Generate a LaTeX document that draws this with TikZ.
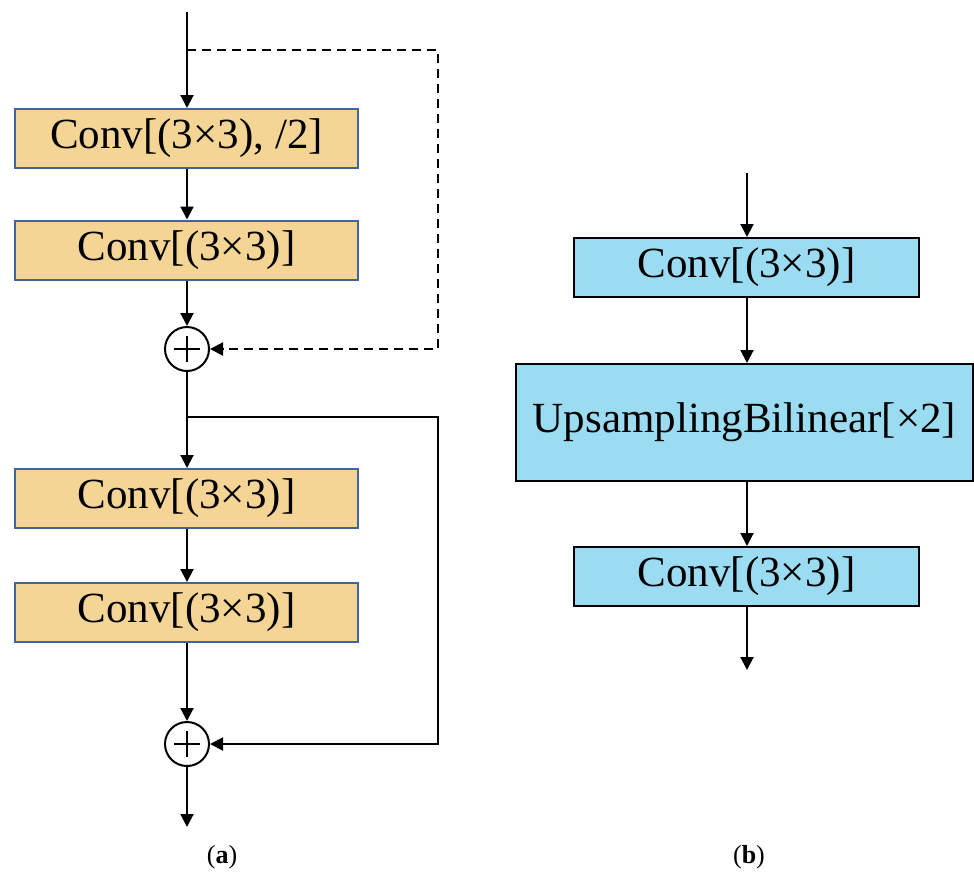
\documentclass[tikz,border=0pt]{standalone}
\usepackage{fontspec}
\setmainfont{Liberation Serif}
\usetikzlibrary{arrows.meta}
\definecolor{peach}{HTML}{F5D596}
\definecolor{bluebord}{HTML}{41649F}
\definecolor{skyfill}{HTML}{9BDCF2}
\begin{document}
\begin{tikzpicture}[x=1pt,y=-1pt,line width=2pt,
  >={Triangle[length=13pt,width=13pt]},
  abox/.style={draw=bluebord, fill=peach, minimum width=343pt, minimum height=59pt, inner sep=0pt, font=\fontsize{43}{50}\selectfont},
  bbox/.style={draw=black, fill=skyfill, minimum width=345pt, minimum height=59pt, inner sep=0pt, font=\fontsize{43}{50}\selectfont},
  sumnode/.style={circle, draw, fill=white, minimum size=44pt, inner sep=0pt,
    path picture={\draw[line width=1.2pt] ([xshift=-13pt]path picture bounding box.center) -- ([xshift=13pt]path picture bounding box.center);
                  \draw[line width=1.2pt] ([yshift=-13pt]path picture bounding box.center) -- ([yshift=13pt]path picture bounding box.center);}},
  lbl/.style={font=\fontsize{26}{30}\selectfont}
]
\useasboundingbox (0,0) rectangle (974,871);

% ---- (a) ----
\coordinate (ain) at (187,12);
\coordinate (br1) at (187,50);
\coordinate (r1) at (438,50);
\node[abox] (a1) at (186.5,138.5) {Conv[(3×3), /2]};
\node[abox] (a2) at (186.5,250) {Conv[(3×3)]};
\node[sumnode] (s1) at (187,349) {};
\coordinate (br2) at (187,417);
\coordinate (r2) at (438,417);
\node[abox] (a3) at (186.5,498.5) {Conv[(3×3)]};
\node[abox] (a4) at (186.5,612.5) {Conv[(3×3)]};
\node[sumnode] (s2) at (187,744) {};
\coordinate (aout) at (187,827);

\draw[->] (ain) -- (a1.north -| ain);
\draw[->] (a1.south -| ain) -- (a2.north -| ain);
\draw[->] (a2.south -| ain) -- (s1.north);
\draw[->,dash pattern=on 9pt off 6pt] (br1) -- (r1) -- (r1 |- s1) -- (s1.east);
\draw[->] (s1.south) -- (a3.north -| ain);
\draw[->] (br2) -- (r2) -- (r2 |- s2) -- (s2.east);
\draw[->] (a3.south -| ain) -- (a4.north -| ain);
\draw[->] (a4.south -| ain) -- (s2.north);
\draw[->] (s2.south) -- (aout);

% ---- (b) ----
\coordinate (bin) at (747,173);
\node[bbox] (b1) at (746.5,267.5) {Conv[(3×3)]};
\node[bbox, minimum width=457pt, minimum height=117pt] (b2) at (744.5,422.5) {UpsamplingBilinear[×2]};
\node[bbox] (b3) at (746.5,576.5) {Conv[(3×3)]};
\coordinate (bout) at (747,670);

\draw[->] (bin) -- (b1.north -| bin);
\draw[->] (b1.south -| bin) -- (b2.north -| bin);
\draw[->] (b2.south -| bin) -- (b3.north -| bin);
\draw[->] (b3.south -| bin) -- (bout);

% ---- labels ----
\node[lbl] (la) at (222,857) {(\textbf{a})};
\node[lbl] (lb) at (749,857) {(\textbf{b})};
\end{tikzpicture}
\end{document}
